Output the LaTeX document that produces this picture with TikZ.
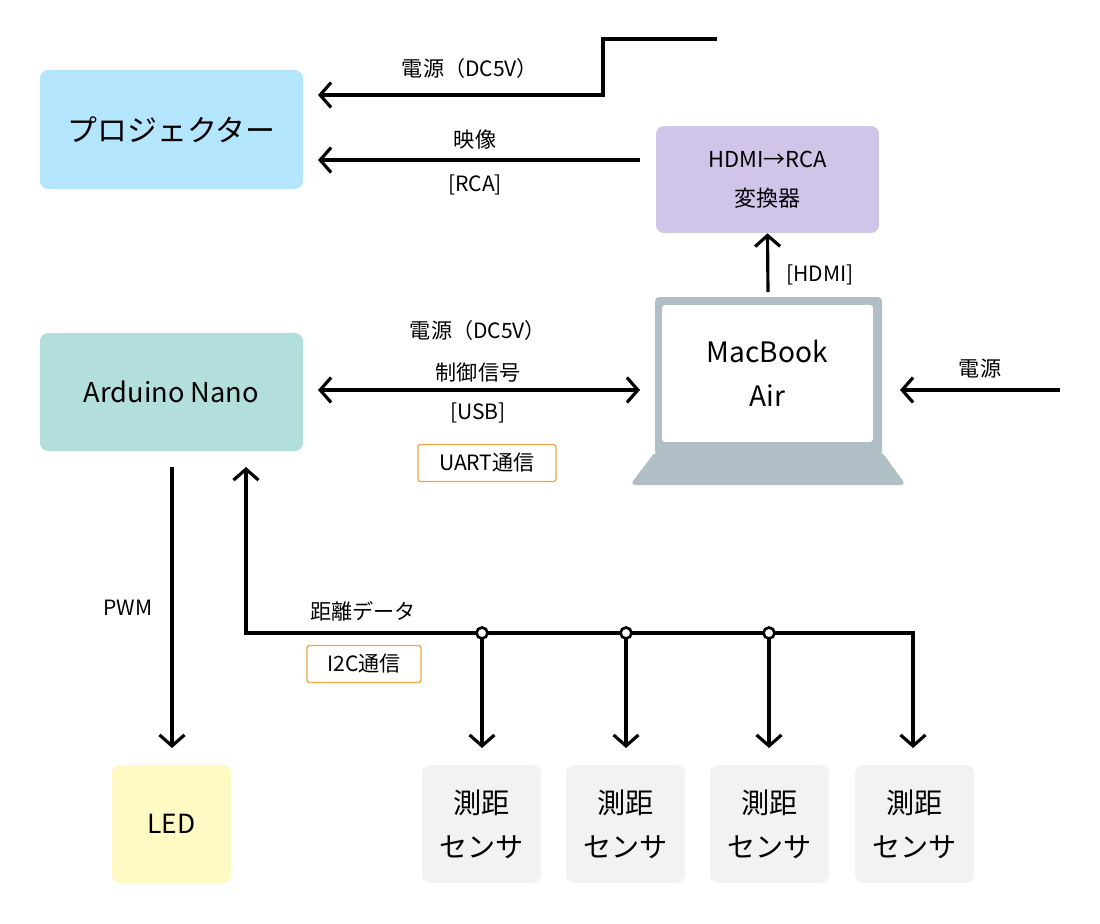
\documentclass[tikz,border=0pt]{standalone}
\usepackage{fontspec}
\setmainfont{Noto Sans CJK JP}
\usetikzlibrary{arrows.meta, positioning}
\definecolor{projblue}{HTML}{B3E5FC}
\definecolor{convpurple}{HTML}{D1C4E9}
\definecolor{ardteal}{HTML}{B2DFDB}
\definecolor{ledyellow}{HTML}{FFF9C4}
\definecolor{sensgray}{HTML}{F2F2F2}
\definecolor{macgray}{HTML}{B0BEC5}
\definecolor{tagorange}{HTML}{F0A848}
\tikzset{%
	box/.style={
		rounded corners=0.16cm,
		draw=none,
		align=center,
		inner sep=0pt
	},
	barb/.tip={Straight Barb[length=0.22cm,width=0.5cm,line width=1.8pt]},
	wire/.style={
		line width=1.8pt,
		-barb
	},
	lbl/.style={
		font=\fontsize{12}{14}\selectfont,
		inner sep=1pt
	},
	tag/.style={
		draw=tagorange,
		line width=0.8pt,
		rounded corners=0.05cm,
		font=\fontsize{12}{14}\selectfont,
		minimum height=0.74cm,
		inner xsep=4pt
	},
	junction/.style={
		circle,
		draw,
		fill=white,
		line width=1.5pt,
		minimum size=0.22cm,
		inner sep=0pt
	},
}
\begin{document}
\begin{tikzpicture}[x=0.02cm,y=-0.02cm]
			\useasboundingbox (0,0) rectangle (1100,924);
			% Boxes
			\node[box, fill=projblue, minimum width=5.26cm, minimum height=2.38cm,
				font=\fontsize{17}{20}\selectfont] (proj) at (171.5,129.5) {プロジェクター};
			\node[box, fill=convpurple, minimum width=4.46cm, minimum height=2.14cm,
				font=\fontsize{12.5}{22}\selectfont] (conv) at (767.5,179.5) {HDMI→RCA\\変換器};
			\node[box, fill=ardteal, minimum width=5.26cm, minimum height=2.36cm,
				font=\fontsize{15.5}{18}\selectfont] (ard) at (171.5,392) {Arduino Nano};
			\node[box, fill=ledyellow, minimum width=2.38cm, minimum height=2.36cm,
				font=\fontsize{15}{18}\selectfont] (led) at (171.5,824) {LED};
			\foreach \i/\x in {1/481.5,2/625.5,3/769.5,4/914.5}
				\node[box, fill=sensgray, minimum width=2.38cm, minimum height=2.36cm,
					font=\fontsize{16}{25}\selectfont] (sens\i) at (\x,824) {測距\\センサ};
			
			% Laptop
			\fill[macgray, rounded corners=0.08cm] (655,297) rectangle (882,455);
			\fill[macgray, rounded corners=0.1cm] (655,452) -- (882,452) -- (906,485) -- (630,485) -- cycle;
			\node[box, fill=white, rounded corners=0.06cm, minimum width=4.22cm, minimum height=2.74cm,
				font=\fontsize{16}{25}\selectfont] (mac) at (767.5,373.5) {MacBook\\Air};
			
			% Power to projector
			\coordinate (pwrin) at (717,39);
			\draw[wire] (pwrin) -- (603,39) -- (603,95) -- (318,95);
			\node[lbl] at (470,68) {電源（DC5V）};
			
			% Video
			\draw[wire] (640,160) -- (318,160);
			\node[lbl] at (475,140) {映像};
			\node[lbl] at (475,185) {[RCA]};
			
			% HDMI
			\draw[wire] (768,292) -- (conv.south);
			\node[lbl] at (820,275) {[HDMI]};
			
			% Power to Mac
			\coordinate (macpwr) at (1060,390);
			\draw[wire] (macpwr) -- (900,390);
			\node[lbl] at (980,369) {電源};
			
			% USB
			\draw[wire, barb-barb] (318,390) -- (640,390);
			\node[lbl] at (478,330) {電源（DC5V）};
			\node[lbl] at (478,372) {制御信号};
			\node[lbl] at (478,413) {[USB]};
			\node[tag, minimum width=2.76cm] at (487,463) {UART通信};
			
			% PWM
			\draw[wire] (172,467) -- (172,748);
			\node[lbl] at (128,608) {PWM};
			
			% I2C bus
			\draw[wire, barb-barb] (246,467) -- (246,633) -- (913,633) -- (913,748);
			\node[lbl] at (363,611) {距離データ};
			\node[tag, minimum width=2.28cm] at (364,664) {I2C通信};
			\foreach \i/\x in {1/482,2/626,3/769}{
				\draw[wire] (\x,633) -- (\x,748);
				\node[junction] (j\i) at (\x,633) {};
			}
		\end{tikzpicture}
\end{document}
